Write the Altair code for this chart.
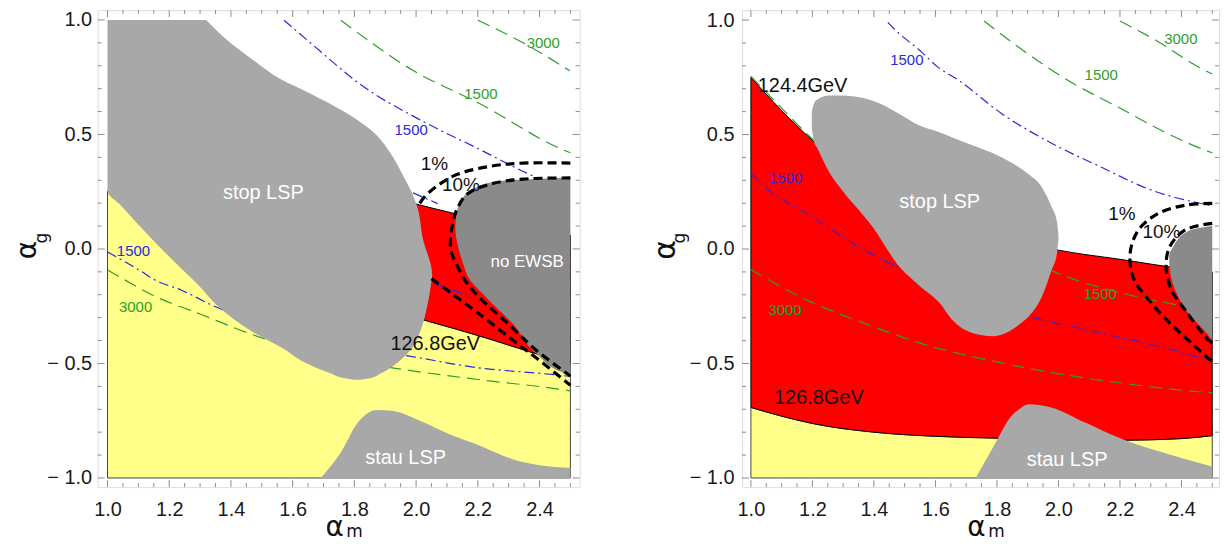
import altair as alt
import pandas as pd

FONT = "Liberation Sans"
TFONT = "DejaVu Sans"
LABEL_C = "#1a1a1a"
TICK_C = "#8c8c8c"
YELLOW = "#ffff8a"
RED = "#ff0000"
GRAY = "#a8a8a8"
DGRAY = "#8a8a8a"
BLUE = "#2a2ad8"
GREEN = "#2e9e2e"

# ---------------- ticks ----------------
X_MAJOR = [1.0, 1.2, 1.4, 1.6, 1.8, 2.0, 2.2, 2.4]
X_MINOR = [1.05, 1.1, 1.15, 1.25, 1.3, 1.35, 1.45, 1.5, 1.55, 1.65, 1.7, 1.75,
           1.85, 1.9, 1.95, 2.05, 2.1, 2.15, 2.25, 2.3, 2.35, 2.45, 2.5]
Y_MAJOR = [-1.0, -0.5, 0.0, 0.5, 1.0]
Y_MINOR = [-0.9, -0.8, -0.7, -0.6, -0.4, -0.3, -0.2, -0.1,
           0.1, 0.2, 0.3, 0.4, 0.6, 0.7, 0.8, 0.9]

# ================= LEFT PANEL =================
L_XDOM = [0.968, 2.53]
L_YDOM = [-1.04, 1.043]

L_YEL_X = [1.0, 1.3, 1.6, 1.9, 2.0, 2.13, 2.24, 2.39, 2.5]
L_YEL_Y = [0.253, 0.07, -0.09, -0.255, -0.30, -0.35, -0.394, -0.458, -0.50]
L_RED_X = [1.9, 2.0, 2.13, 2.24, 2.39, 2.5]
L_RED_TOP = [0.23, 0.196, 0.153, 0.12, 0.08, 0.06]
L_RED_BOT = [-0.255, -0.30, -0.35, -0.394, -0.458, -0.50]
L_STOP_Y = [-0.571, -0.565, -0.544, -0.487, -0.437, -0.358, -0.25, -0.157, -0.113, 0.045, 0.188,
            0.253, 0.318, 0.418, 0.52, 0.591, 0.677, 0.741, 0.822, 0.921, 1.0]
L_STOP_XL = [1.80, 1.77, 1.724, 1.627, 1.572, 1.465, 1.358, 1.294, 1.26, 1.143, 1.045,
             1.0, 1.0, 1.0, 1.0, 1.0, 1.0, 1.0, 1.0, 1.0, 1.0]
L_STOP_XR = [1.82, 1.85, 1.885, 1.948, 1.985, 2.014, 2.036, 2.048, 2.052, 2.022, 2.003,
             1.984, 1.959, 1.917, 1.853, 1.777, 1.66, 1.562, 1.475, 1.38, 1.320]
L_EWSB_Y = [-0.55, -0.545, -0.458, -0.329, -0.214, -0.126, -0.07, 0.016, 0.089, 0.159,
            0.217, 0.262, 0.289, 0.30, 0.308, 0.312]
L_EWSB_XL = [2.5, 2.487, 2.39, 2.315, 2.229, 2.17, 2.154, 2.135, 2.127, 2.132,
             2.148, 2.185, 2.24, 2.30, 2.42, 2.5]
L_STAU_X = [1.691, 1.756, 1.810, 1.874, 1.927, 2.014, 2.120, 2.207, 2.313, 2.400, 2.5]
L_STAU_Y = [-1.0, -0.889, -0.760, -0.703, -0.708, -0.751, -0.816, -0.859, -0.918, -0.944, -0.955]

L_BLUE = [
    ([1.572, 1.669, 1.820, 2.014, 2.207, 2.359, 2.491], [0.999, 0.887, 0.718, 0.563, 0.434, 0.331, 0.253]),
    ([1.0, 1.111, 1.153, 1.24, 1.346, 1.6, 1.8, 1.992, 2.175, 2.475, 2.5],
     [-0.013, -0.099, -0.135, -0.18, -0.25, -0.36, -0.43, -0.471, -0.514, -0.553, -0.557]),
    ([1.99, 2.07], [0.245, 0.198]),
    ([2.056, 2.175], [-0.148, -0.208]),
]
L_GREEN = [
    ([1.756, 1.992, 2.207, 2.476, 2.5], [0.999, 0.778, 0.634, 0.433, 0.42]),
    ([2.2, 2.358, 2.498], [0.999, 0.892, 0.778]),
    ([1.0, 1.056, 1.143, 1.304, 1.465, 1.6, 1.8, 1.928, 2.2, 2.491, 2.5],
     [-0.092, -0.135, -0.20, -0.286, -0.372, -0.43, -0.49, -0.52, -0.57, -0.618, -0.62]),
]
L_BLACK = [
    ([2.5, 2.347, 2.24, 2.132, 2.068, 2.025, 2.006], [0.375, 0.375, 0.361, 0.325, 0.275, 0.224, 0.185]),
    ([2.05, 2.121, 2.207, 2.315, 2.40, 2.5], [-0.13, -0.2, -0.286, -0.40, -0.487, -0.595]),
    ([2.5, 2.346, 2.24, 2.166, 2.133, 2.117, 2.111, 2.118, 2.132, 2.16, 2.207, 2.30, 2.39, 2.5],
     [0.31, 0.305, 0.283, 0.24, 0.175, 0.102, 0.016, -0.03, -0.07, -0.14, -0.214, -0.329, -0.443, -0.555]),
]
L_BLUE_LAB = ([1.984, 1.084], [0.519, -0.009], ["1500", "1500"])
L_GREEN_LAB = ([2.21, 2.412, 1.091], [0.677, 0.9, -0.253], ["1500", "3000", "3000"])
L_BLACK_LAB = ([2.059, 2.145, 2.062], [0.372, 0.279, -0.416], ["1%", "10%", "126.8GeV"])
L_WHITE_LAB = ([1.505, 2.36, 1.966], [0.244, -0.057, -0.911], ["stop LSP", "no EWSB", "stau LSP"])
L_WHITE_SIZE = [20, 17, 20]

# ================= RIGHT PANEL =================
R_XDOM = [0.971, 2.522]
R_YDOM = [-1.04, 1.0435]

R_YEL_X = [1.0, 1.1, 1.2, 1.4, 1.6, 1.8, 2.0, 2.2, 2.4, 2.5]
R_YEL_Y = [-0.692, -0.73, -0.762, -0.80, -0.818, -0.826, -0.83, -0.835, -0.828, -0.815]
R_RED_X = R_YEL_X
R_RED_TOP = [0.749, 0.605, 0.475, 0.29, 0.16, 0.06, -0.005, -0.045, -0.085, -0.10]
R_RED_BOT = R_YEL_Y
R_STOP_X = [1.198, 1.205, 1.215, 1.257, 1.289, 1.396, 1.483, 1.548, 1.613, 1.655, 1.742,
            1.784, 1.839, 1.872, 1.904, 1.946, 1.978, 1.995, 2.0]
R_STOP_TOP = [0.60, 0.635, 0.652, 0.670, 0.670, 0.648, 0.59, 0.539, 0.51, 0.487, 0.442,
              0.42, 0.383, 0.357, 0.325, 0.270, 0.183, 0.12, 0.06]
R_STOP_BOT = [0.53, 0.47, 0.443, 0.33, 0.270, 0.096, -0.078, -0.16, -0.235, -0.31, -0.375,
              -0.381, -0.36, -0.33, -0.294, -0.209, -0.091, -0.02, 0.04]
R_EWSB_Y = [-0.40, -0.374, -0.294, -0.207, -0.091, -0.03, 0.010, 0.045, 0.070, 0.09, 0.10]
R_EWSB_XL = [2.5, 2.486, 2.431, 2.389, 2.362, 2.36, 2.373, 2.39, 2.411, 2.45, 2.5]
R_STAU_X = [1.731, 1.796, 1.839, 1.872, 1.904, 1.979, 2.087, 2.195, 2.302, 2.411, 2.5]
R_STAU_Y = [-1.0, -0.845, -0.743, -0.70, -0.678, -0.693, -0.758, -0.823, -0.874, -0.917, -0.95]

R_BLUE = [
    ([1.445, 1.467, 1.557, 1.603, 1.677, 1.817, 1.979, 2.14, 2.302, 2.49, 2.5],
     [0.99, 0.96, 0.858, 0.80, 0.735, 0.59, 0.461, 0.357, 0.257, 0.191, 0.188]),
    ([1.0, 1.072, 1.181, 1.331, 1.483, 1.7, 1.904, 2.087, 2.302, 2.486, 2.5],
     [0.329, 0.243, 0.156, 0.025, -0.083, -0.2, -0.294, -0.352, -0.417, -0.483, -0.488]),
]
R_GREEN = [
    ([1.758, 1.872, 2.033, 2.195, 2.357, 2.48, 2.5], [0.996, 0.88, 0.735, 0.619, 0.503, 0.43, 0.42]),
    ([2.2, 2.302, 2.49, 2.5], [0.996, 0.923, 0.771, 0.765]),
    ([1.0, 1.1, 1.208, 1.5, 1.8, 2.011, 2.25, 2.38, 2.5], [0.755, 0.615, 0.47, 0.22, 0.02, -0.113, -0.207, -0.243, -0.28]),
    ([1.0, 1.181, 1.396, 1.548, 1.764, 1.979, 2.195, 2.49, 2.5],
     [-0.09, -0.222, -0.338, -0.41, -0.483, -0.54, -0.584, -0.627, -0.628]),
]
R_BLACK = [
    ([2.5, 2.411, 2.325, 2.26, 2.233, 2.245, 2.302, 2.367, 2.432, 2.492, 2.5],
     [0.199, 0.191, 0.156, 0.083, -0.019, -0.13, -0.236, -0.33, -0.41, -0.483, -0.49]),
    ([2.5, 2.411, 2.362, 2.35, 2.367, 2.411, 2.486, 2.5], [0.112, 0.083, 0.010, -0.077, -0.178, -0.265, -0.396, -0.41]),
]
R_BLUE_LAB = ([1.507, 1.113], [0.825, 0.31], ["1500", "1500"])
R_GREEN_LAB = ([2.139, 2.398, 1.111, 2.136], [0.761, 0.919, -0.268, -0.196], ["1500", "3000", "3000", "1500"])
R_BLACK_LAB = ([2.206, 2.335, 1.168, 1.221], [0.152, 0.075, 0.713, -0.652], ["1%", "10%", "124.4GeV", "126.8GeV"])
R_WHITE_LAB = ([1.614, 2.028], [0.204, -0.92], ["stop LSP", "stau LSP"])
R_WHITE_SIZE = [20, 20]


def lines_df(segs):
    rows = []
    for k, (xs_, ys_) in enumerate(segs):
        for i, (a, b) in enumerate(zip(xs_, ys_)):
            rows.append({"x": a, "y": b, "seg": k, "i": i})
    return pd.DataFrame(rows)


def make_panel(P, W, H, ypad, ytitle_x, ytitle_size):
    xs = alt.Scale(domain=P["xdom"], nice=False, zero=False)
    ys = alt.Scale(domain=P["ydom"], nice=False, zero=False)
    xax = alt.Axis(values=X_MAJOR, labelExpr="format(datum.value, '.1f')", ticks=False,
                   domain=False, grid=False, title=None, labelFont=FONT, labelFontSize=20,
                   labelColor=LABEL_C, labelPadding=12, labelOverlap=False, labelFlush=False)
    yax = alt.Axis(values=Y_MAJOR,
                   labelExpr="datum.value < 0 ? '\u2212 ' + format(-datum.value, '.1f') : format(datum.value, '.1f')",
                   ticks=False, domain=False, grid=False, title=None, labelFont=FONT,
                   labelFontSize=20, labelColor=LABEL_C, labelPadding=ypad,
                   labelOverlap=False, labelFlush=False)

    def X(f):
        return alt.X(f, type="quantitative", scale=xs, axis=xax)

    def Y(f):
        return alt.Y(f, type="quantitative", scale=ys, axis=yax)

    layers = []
    d = pd.DataFrame({"x": P["yel_x"], "y": P["yel_y"], "y2": [-1.0] * len(P["yel_x"])})
    layers.append(alt.Chart(d).mark_area(orient="vertical", color=YELLOW, stroke="#444444",
                                         strokeWidth=1, interpolate="monotone", clip=True)
                  .encode(x=X("x"), y=Y("y"), y2=alt.Y2("y2")))
    d = pd.DataFrame({"x": P["red_x"], "y": P["red_top"], "y2": P["red_bot"]})
    layers.append(alt.Chart(d).mark_area(orient="vertical", color=RED, stroke="#000000",
                                         strokeWidth=1, interpolate="monotone", clip=True)
                  .encode(x=X("x"), y=Y("y"), y2=alt.Y2("y2")))
    layers.append(alt.Chart(lines_df(P["blue"])).mark_line(color=BLUE, strokeWidth=1.2,
                                                           strokeDash=[10, 4, 2, 4],
                                                           interpolate="monotone", clip=True)
                  .encode(x=X("x"), y=Y("y"), detail="seg:N", order="i:Q"))
    layers.append(alt.Chart(lines_df(P["green"])).mark_line(color=GREEN, strokeWidth=1.2,
                                                            strokeDash=[13, 7],
                                                            interpolate="monotone", clip=True)
                  .encode(x=X("x"), y=Y("y"), detail="seg:N", order="i:Q"))
    if P["stop_kind"] == "h":
        d = pd.DataFrame({"y": P["stop_y"], "xl": P["stop_xl"], "xr": P["stop_xr"]})
        layers.append(alt.Chart(d).mark_area(orient="horizontal", color=GRAY,
                                             interpolate="monotone", clip=True)
                      .encode(y=Y("y"), x=X("xl"), x2=alt.X2("xr")))
    else:
        d = pd.DataFrame({"x": P["stop_x"], "y": P["stop_top"], "y2": P["stop_bot"]})
        layers.append(alt.Chart(d).mark_area(orient="vertical", color=GRAY,
                                             interpolate="monotone", clip=True)
                      .encode(x=X("x"), y=Y("y"), y2=alt.Y2("y2")))
    d = pd.DataFrame({"y": P["ewsb_y"], "xl": P["ewsb_xl"], "xr": [2.5] * len(P["ewsb_y"])})
    layers.append(alt.Chart(d).mark_area(orient="horizontal", color=DGRAY,
                                         interpolate="monotone", clip=True)
                  .encode(y=Y("y"), x=X("xl"), x2=alt.X2("xr")))
    d = pd.DataFrame({"x": P["stau_x"], "y": P["stau_y"], "y2": [-1.0] * len(P["stau_x"])})
    layers.append(alt.Chart(d).mark_area(orient="vertical", color=GRAY,
                                         interpolate="monotone", clip=True)
                  .encode(x=X("x"), y=Y("y"), y2=alt.Y2("y2")))
    layers.append(alt.Chart(lines_df(P["black"])).mark_line(color="#000000", strokeWidth=3.2,
                                                            strokeDash=[9, 5],
                                                            interpolate="catmull-rom", clip=True)
                  .encode(x=X("x"), y=Y("y"), detail="seg:N", order="i:Q"))

    def txt(lab, color, size):
        d = pd.DataFrame({"x": lab[0], "y": lab[1], "t": lab[2]})
        return (alt.Chart(d).mark_text(color=color, fontSize=size, font=FONT)
                .encode(x=X("x"), y=Y("y"), text="t:N"))

    layers.append(txt(P["blue_lab"], BLUE, 15))
    layers.append(txt(P["green_lab"], GREEN, 15))
    d = pd.DataFrame({"x": P["black_lab"][0], "y": P["black_lab"][1], "t": P["black_lab"][2],
                      "s": [19 if "%" in t else 20 for t in P["black_lab"][2]]})
    layers.append(alt.Chart(d).mark_text(color="#111111", font=FONT)
                  .encode(x=X("x"), y=Y("y"), text="t:N", size=alt.Size("s:Q", scale=None, legend=None)))
    d = pd.DataFrame({"x": P["white_lab"][0], "y": P["white_lab"][1], "t": P["white_lab"][2],
                      "s": P["white_size"]})
    layers.append(alt.Chart(d).mark_text(color="#ffffff", font=FONT)
                  .encode(x=X("x"), y=Y("y"), text="t:N", size=alt.Size("s:Q", scale=None, legend=None)))

    for vals, ln in ((X_MAJOR, 7), (X_MINOR, 4)):
        d = pd.DataFrame({"v": vals})
        base = alt.Chart(d).mark_rule(color=TICK_C, strokeWidth=1)
        layers.append(base.encode(x=alt.X("v:Q", scale=xs, axis=xax), y=alt.value(H), y2=alt.value(H - ln)))
        layers.append(base.encode(x=alt.X("v:Q", scale=xs, axis=xax), y=alt.value(0), y2=alt.value(ln)))
    for vals, ln in ((Y_MAJOR, 7), (Y_MINOR, 4)):
        d = pd.DataFrame({"v": vals})
        base = alt.Chart(d).mark_rule(color=TICK_C, strokeWidth=1)
        layers.append(base.encode(y=alt.Y("v:Q", scale=ys, axis=yax), x=alt.value(0), x2=alt.value(ln)))
        layers.append(base.encode(y=alt.Y("v:Q", scale=ys, axis=yax), x=alt.value(W), x2=alt.value(W - ln)))

    def ttl(t, x, y, size, angle=0, baseline="middle"):
        d = pd.DataFrame({"t": [t]})
        return (alt.Chart(d).mark_text(font=TFONT, fontSize=size, angle=angle, baseline=baseline,
                                       align="center", color="#111111")
                .encode(x=alt.value(x), y=alt.value(y), text="t:N"))

    y0 = H * P["ydom"][1] / (P["ydom"][1] - P["ydom"][0])
    layers.append(ttl("\u03b1", ytitle_x, y0 + 1, ytitle_size, angle=270))
    layers.append(ttl("g", ytitle_x + 14, y0 - 11, 17, angle=270))
    layers.append(ttl("\u03b1", W / 2 - 4, H + 49, 28, baseline="alphabetic"))
    layers.append(ttl("m", W / 2 + 16, H + 50, 17, baseline="alphabetic"))

    return alt.layer(*layers).properties(width=W, height=H)


LEFT = dict(xdom=L_XDOM, ydom=L_YDOM, yel_x=L_YEL_X, yel_y=L_YEL_Y,
            red_x=L_RED_X, red_top=L_RED_TOP, red_bot=L_RED_BOT,
            stop_kind="h", stop_y=L_STOP_Y, stop_xl=L_STOP_XL, stop_xr=L_STOP_XR,
            ewsb_y=L_EWSB_Y, ewsb_xl=L_EWSB_XL, stau_x=L_STAU_X, stau_y=L_STAU_Y,
            blue=L_BLUE, green=L_GREEN, black=L_BLACK,
            blue_lab=L_BLUE_LAB, green_lab=L_GREEN_LAB, black_lab=L_BLACK_LAB,
            white_lab=L_WHITE_LAB, white_size=L_WHITE_SIZE)
RIGHT = dict(xdom=R_XDOM, ydom=R_YDOM, yel_x=R_YEL_X, yel_y=R_YEL_Y,
             red_x=R_RED_X, red_top=R_RED_TOP, red_bot=R_RED_BOT,
             stop_kind="v", stop_x=R_STOP_X, stop_top=R_STOP_TOP, stop_bot=R_STOP_BOT,
             ewsb_y=R_EWSB_Y, ewsb_xl=R_EWSB_XL, stau_x=R_STAU_X, stau_y=R_STAU_Y,
             blue=R_BLUE, green=R_GREEN, black=R_BLACK,
             blue_lab=R_BLUE_LAB, green_lab=R_GREEN_LAB, black_lab=R_BLACK_LAB,
             white_lab=R_WHITE_LAB, white_size=R_WHITE_SIZE)

left = make_panel(LEFT, 484, 479, 6, -70, 28)
right = make_panel(RIGHT, 479, 479, 8, -76, 30)

chart = (alt.hconcat(left, right, spacing=70,
                     padding={"left": 5, "top": 0, "right": 0, "bottom": 0})
         .configure_view(stroke="#999999", strokeWidth=1)
         .configure(background="white"))

chart.save("out.html", embed_options={"renderer": "svg", "actions": False})
